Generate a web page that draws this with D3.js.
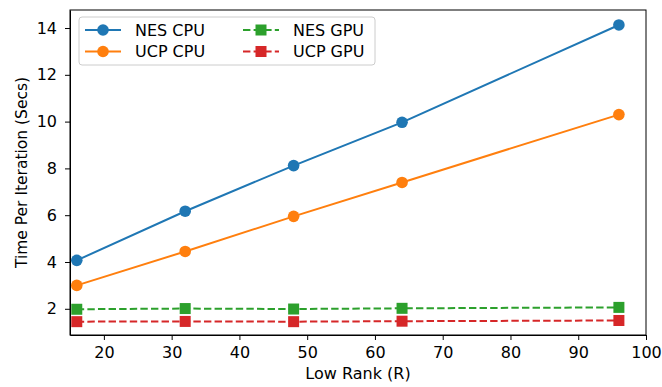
<!DOCTYPE html>
<html lang="en">
<head>
<meta charset="UTF-8">
<title>Time per iteration</title>
<script src="https://d3js.org/d3.v7.min.js"></script>
<style>
  body { margin: 0; background: #fff; }
  svg text { font-family: "DejaVu Sans", sans-serif; fill: #000; }
  .axis path, .axis line { stroke: #000; stroke-width: 1; }
  .axis text { font-size: 16px; }
</style>
</head>
<body>
<script>
// data
var ranks = [16, 32, 48, 64, 96];
var nesCpu = [4.07, 6.17, 8.12, 9.97, 14.13];
var ucpCpu = [3.0, 4.45, 5.95, 7.4, 10.3];
var nesGpu = [1.98, 2.01, 1.99, 2.02, 2.06];
var ucpGpu = [1.45, 1.46, 1.45, 1.47, 1.5];
var xTicks = [20, 30, 40, 50, 60, 70, 80, 90, 100];
var yTicks = [2, 4, 6, 8, 10, 12, 14];

var series = [
  {name: "NES CPU", vals: nesCpu, color: "#1f77b4", shape: "circle", dash: null},
  {name: "UCP CPU", vals: ucpCpu, color: "#ff7f0e", shape: "circle", dash: null},
  {name: "NES GPU", vals: nesGpu, color: "#2ca02c", shape: "square", dash: "7.4,3.2"},
  {name: "UCP GPU", vals: ucpGpu, color: "#d62728", shape: "square", dash: "7.4,3.2"}
];

var w = 662, h = 387;
var padL = 70, padR = 646, padT = 10, padB = 335;

var svg = d3.select("body").append("svg").attr("width", w).attr("height", h);

var x = d3.scaleLinear().domain([15, 100]).range([padL, padR]);
var y = d3.scaleLinear().domain([0.88, 14.77]).range([padB, padT]);

// axes
svg.append("g").attr("class", "axis")
  .attr("transform", "translate(0," + padB + ")")
  .call(d3.axisBottom(x).tickValues(xTicks).tickSize(5).tickPadding(7).tickSizeOuter(0));
svg.append("g").attr("class", "axis")
  .attr("transform", "translate(" + padL + ",0)")
  .call(d3.axisLeft(y).tickValues(yTicks).tickSize(5).tickPadding(8).tickSizeOuter(0));

// frame
svg.append("rect")
  .attr("x", padL).attr("y", padT)
  .attr("width", padR - padL).attr("height", padB - padT)
  .attr("fill", "none").attr("stroke", "#000").attr("stroke-width", 1);

// lines + markers
var line = d3.line().x(function(d) { return x(d[0]); }).y(function(d) { return y(d[1]); });

series.forEach(function(s) {
  var pts = ranks.map(function(r, i) { return [r, s.vals[i]]; });
  svg.append("path")
    .datum(pts)
    .attr("d", line)
    .attr("fill", "none")
    .attr("stroke", s.color)
    .attr("stroke-width", 2)
    .attr("stroke-dasharray", s.dash);
  drawMarkers(svg, pts.map(function(p) { return [x(p[0]), y(p[1])]; }), s);
});

function drawMarkers(g, xy, s) {
  xy.forEach(function(p) {
    if (s.shape == "circle") {
      g.append("circle").attr("cx", p[0]).attr("cy", p[1]).attr("r", 5.8).attr("fill", s.color);
    } else {
      g.append("rect").attr("x", p[0] - 5.5).attr("y", p[1] - 5.5)
        .attr("width", 11).attr("height", 11).attr("fill", s.color);
    }
  });
}

// legend
var lg = svg.append("g");
lg.append("rect")
  .attr("x", 79).attr("y", 17).attr("width", 296).attr("height", 48).attr("rx", 3)
  .attr("fill", "#fff").attr("fill-opacity", 0.8).attr("stroke", "#ccc").attr("stroke-width", 1);

series.forEach(function(s, i) {
  var col = i < 2 ? 0 : 1;
  var row = i % 2;
  var hx = col == 0 ? 85 : 243;
  var hy = 30 + row * 21.5;
  lg.append("line")
    .attr("x1", hx).attr("x2", hx + 36).attr("y1", hy).attr("y2", hy)
    .attr("stroke", s.color).attr("stroke-width", 2).attr("stroke-dasharray", s.dash);
  drawMarkers(lg, [[hx + 18, hy]], s);
  lg.append("text")
    .attr("x", hx + 50).attr("y", hy).attr("dy", "0.35em")
    .style("font-size", "16px")
    .text(s.name);
});

// axis titles
svg.append("text")
  .attr("x", (padL + padR) / 2).attr("y", 379)
  .attr("text-anchor", "middle").style("font-size", "16px")
  .text("Low Rank (R)");
svg.append("text")
  .attr("transform", "translate(22," + (padT + padB) / 2 + ") rotate(-90)")
  .attr("dy", "0.35em")
  .attr("text-anchor", "middle").style("font-size", "15.5px")
  .text("Time Per Iteration (Secs)");
</script>
</body>
</html>
